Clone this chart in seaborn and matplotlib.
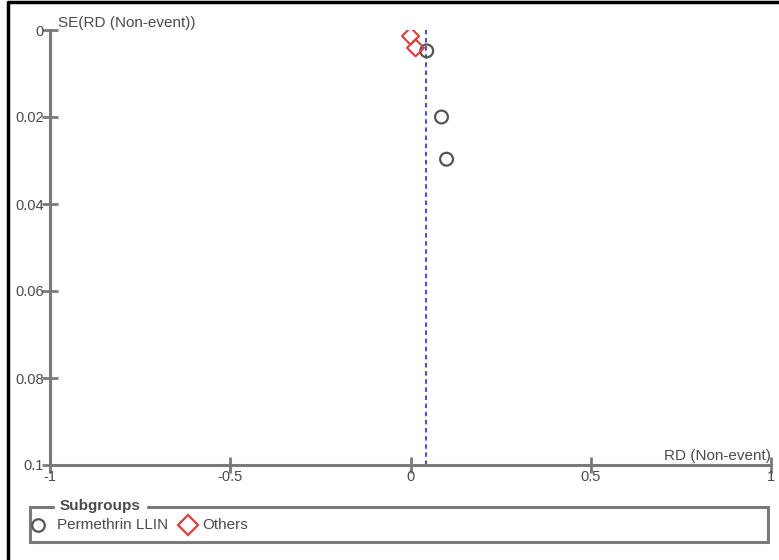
import matplotlib
matplotlib.use("Agg")
import matplotlib.pyplot as plt
import seaborn as sns
import pandas as pd
from matplotlib.patches import Rectangle
from matplotlib.lines import Line2D

sns.set_style("white")
plt.rcParams['font.family'] = ['Liberation Sans', 'DejaVu Sans']

# Data
groups = ["Permethrin LLIN", "Permethrin LLIN", "Permethrin LLIN", "Others", "Others"]
rd = [0.045, 0.086, 0.100, 0.000, 0.014]
se = [0.0048, 0.0200, 0.0297, 0.0014, 0.0041]
pooled_rd = 0.042
xticks = [-1, -0.5, 0, 0.5, 1]
xticklabels = ["-1", "-0.5", "0", "0.5", "1"]
yticks = [0, 0.02, 0.04, 0.06, 0.08, 0.1]
yticklabels = ["0", "0.02", "0.04", "0.06", "0.08", "0.1"]

df = pd.DataFrame({"RD": rd, "SE": se, "Subgroup": groups})

W, H = 779, 560
fig = plt.figure(figsize=(W / 100, H / 100), dpi=100)
ax = fig.add_axes([50 / W, 1 - 465 / H, (771 - 50) / W, (465 - 30) / H])

gray = "#7a7a7a"
txt = "#4a4a4a"
fs = 10.5
fs_leg = 11

sns.scatterplot(data=df[df.Subgroup == "Permethrin LLIN"], x="RD", y="SE", ax=ax,
                marker="o", s=85, facecolor="none", edgecolor="#555555", linewidth=1.6,
                legend=False, zorder=3)
sns.scatterplot(data=df[df.Subgroup == "Others"], x="RD", y="SE", ax=ax,
                marker="D", s=75, facecolor="none", edgecolor="#e03c3c", linewidth=1.5,
                legend=False, zorder=3)
ax.axvline(pooled_rd, color="#3a3ae6", linestyle=(0, (2.5, 2)), linewidth=1.3, zorder=2)

ax.set_xlim(-1, 1)
ax.set_ylim(0.1, 0)
ax.set_xticks(xticks)
ax.set_xticklabels(xticklabels)
ax.set_yticks(yticks)
ax.set_yticklabels(yticklabels)
ax.set_xlabel("")
ax.set_ylabel("")
for s in ["top", "right"]:
    ax.spines[s].set_visible(False)
for s in ["left", "bottom"]:
    ax.spines[s].set_color(gray)
    ax.spines[s].set_linewidth(2.2)
ax.tick_params(axis="both", which="major", bottom=True, left=True, direction="inout",
               length=11, width=2, color=gray, labelsize=fs, labelcolor=txt)
ax.tick_params(axis="x", pad=-2)
ax.tick_params(axis="y", pad=-1)

ax.text(8 / (771 - 50), 1.0, "SE(RD (Non-event))", transform=ax.transAxes,
        fontsize=fs_leg, color=txt, ha="left", va="bottom")
ax.text(1.0, 0.004, "RD (Non-event)", transform=ax.transAxes, fontsize=fs_leg,
        color=txt, ha="right", va="bottom")

# Outer frame (left and top edges)
fig.add_artist(Line2D([8 / W, 8 / W, 1.0], [0.0, 1 - 2 / H, 1 - 2 / H],
                      transform=fig.transFigure, color="black", linewidth=2.5))

# Legend box
lx0, lx1, ly0, ly1 = 30, 768, 507, 542
fig.add_artist(Rectangle((lx0 / W, 1 - ly1 / H), (lx1 - lx0) / W, (ly1 - ly0) / H,
                         transform=fig.transFigure, fill=False, edgecolor=gray,
                         linewidth=2.2))
fig.text(60 / W, 1 - 506 / H, "Subgroups", fontsize=fs_leg, fontweight="bold", color=txt,
         ha="left", va="center", backgroundcolor="white")
ey = 1 - 525 / H
fig.add_artist(Line2D([38 / W], [ey], marker="o", markersize=9, markerfacecolor="none",
                      markeredgecolor="#555555", markeredgewidth=1.6, transform=fig.transFigure))
fig.text(57 / W, ey, "Permethrin LLIN", fontsize=fs_leg, color=txt, ha="left", va="center")
fig.add_artist(Line2D([188 / W], [ey], marker="D", markersize=10, markerfacecolor="none",
                      markeredgecolor="#e03c3c", markeredgewidth=1.6, transform=fig.transFigure))
fig.text(202 / W, ey, "Others", fontsize=fs_leg, color=txt, ha="left", va="center")

fig.savefig("out.png", dpi=100, facecolor="white")
